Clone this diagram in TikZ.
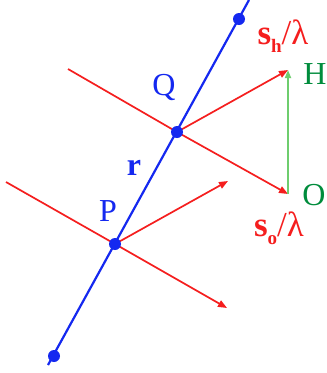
\documentclass[tikz,border=0pt]{standalone}
\usepackage{fontspec}
\setmainfont{Liberation Serif}
\usetikzlibrary{arrows.meta}
\definecolor{myblue}{RGB}{20,40,240}
\definecolor{myred}{RGB}{245,30,30}
\definecolor{mygreen}{RGB}{110,205,110}
\definecolor{labgreen}{RGB}{0,140,60}
\newcommand{\subsc}[1]{\raisebox{-0.22em}{\fontsize{19}{20}\selectfont\textbf{#1}}}
\tikzset{
  blueline/.style={draw=myblue,line width=2.2pt},
  redline/.style={draw=myred,line width=1.7pt},
  redarrow/.style={redline,-{Triangle[length=9pt,width=7pt]}},
  greenarrow/.style={draw=mygreen,line width=1.6pt,-{Triangle[length=8pt,width=6pt]}},
  dot/.style={circle,fill=myblue,inner sep=0pt,minimum size=12pt},
  lab/.style={inner sep=0pt,font=\fontsize{32}{36}\selectfont},
  slab/.style={inner sep=0pt,text=myred,font=\fontsize{35}{38}\selectfont},
}
\begin{document}
\begin{tikzpicture}[x=1pt,y=-1pt]
\useasboundingbox[fill=white] (0,0) rectangle (327,373);
% blue line
\coordinate (bt) at (249,0);
\coordinate (bb) at (48,365);
\draw[blueline] (bt) -- (bb);
% red rays
\coordinate (qs) at (68,69);
\coordinate (ps) at (6,182);
\coordinate (O) at (288,194);
\coordinate (H) at (288,70);
\coordinate (pe) at (227,308);
\coordinate (pu) at (228,181);
\coordinate (Qc) at (177,132);
\coordinate (Pc) at (115,244);
\draw[redline] (qs) -- (Qc);
\draw[redarrow] (Qc) -- (O);
\draw[redarrow] (Qc) -- (H);
\draw[redline] (ps) -- (Pc);
\draw[redarrow] (Pc) -- (pe);
\draw[redarrow] (Pc) -- (pu);
\draw[greenarrow] (O) -- (H);
% dots
\node[dot] (dt) at (239,19) {};
\node[dot] (Q) at (Qc) {};
\node[dot] (P) at (Pc) {};
\node[dot] (db) at (54,356) {};
% labels
\node[lab,text=myblue] (lQ) at (164,87) {Q};
\node[lab,text=myblue] (lP) at (108,211) {P};
\node[lab,text=myblue] (lr) at (134,168) {\textbf{r}};
\node[slab] (lsh) at (283,36) {\textbf{s}\subsc{h}/λ};
\node[lab,text=labgreen] (lH) at (315,74) {H};
\node[lab,text=labgreen] (lO) at (314,195) {O};
\node[slab] (lso) at (279,228) {\textbf{s}\subsc{o}/λ};
\end{tikzpicture}
\end{document}
